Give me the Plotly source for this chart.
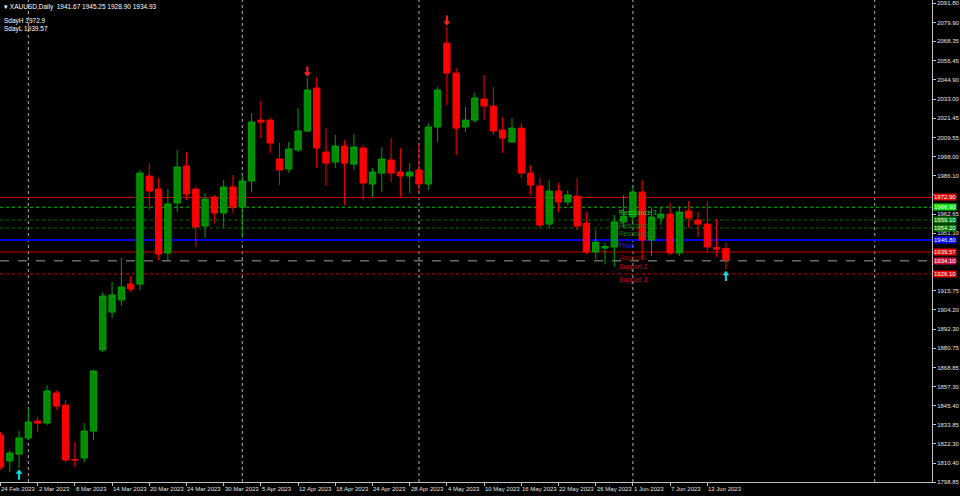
import plotly.graph_objects as go

# ---------------- data ----------------
symbol = "XAUUSD,Daily"

open_ = [1827.6, 1811.7, 1815.9, 1825.8, 1836.1, 1834.9, 1853.3, 1845.9, 1812.6, 1813.5,
         1830.0, 1879.6, 1902.8, 1910.2, 1919.9, 1919.9, 1986.0, 1978.0, 1938.9, 1969.5,
         1992.1, 1978.0, 1955.4, 1973.1, 1963.4, 1979.3, 1967.0, 1982.9, 2020.2, 2020.2,
         1996.4, 1990.3, 2001.9, 2013.5, 2039.8, 2000.7, 1994.6, 2004.3, 1993.3, 2003.1,
         1981.1, 1987.8, 1995.8, 1988.4, 1986.0, 1989.7, 1981.1, 2016.0, 2067.3, 2049.0,
         2016.0, 2020.2, 2033.1, 2028.8, 2014.1, 2006.8, 2015.3, 1987.8, 1979.9, 1956.6,
         1976.8, 1970.1, 1973.7, 1957.2, 1939.5, 1941.9, 1942.6, 1957.9, 1960.9, 1976.2,
         1946.8, 1960.3, 1962.7, 1938.9, 1964.6, 1959.1, 1956.6, 1942.2, 1941.67]
high = [1829.5, 1818.4, 1830.0, 1844.1, 1838.6, 1858.1, 1855.1, 1849.0, 1823.3, 1834.9,
        1867.3, 1915.0, 1921.2, 1935.8, 1924.8, 1989.7, 1994.0, 1984.8, 1978.0, 2001.9,
        2000.7, 1979.9, 1975.6, 1974.4, 1983.5, 1986.6, 1986.6, 2024.5, 2031.9, 2021.5,
        2006.2, 2006.8, 2027.6, 2045.9, 2046.5, 2015.3, 2011.1, 2008.0, 2011.7, 2005.0,
        1990.9, 2003.7, 2009.2, 2003.1, 1993.9, 2006.2, 2018.4, 2040.4, 2077.1, 2052.0,
        2028.2, 2036.8, 2047.8, 2040.4, 2022.1, 2021.5, 2018.4, 1992.7, 1984.8, 1983.5,
        1981.7, 1977.4, 1984.8, 1964.0, 1952.9, 1945.0, 1962.1, 1974.4, 1979.9, 1983.5,
        1966.4, 1967.0, 1969.5, 1967.6, 1970.7, 1964.0, 1970.7, 1959.7, 1945.25]
low = [1806.5, 1804.9, 1807.4, 1824.5, 1829.4, 1833.7, 1842.9, 1811.0, 1808.0, 1811.0,
       1824.5, 1878.3, 1899.1, 1906.5, 1915.0, 1916.3, 1965.2, 1934.6, 1934.6, 1964.0,
       1971.3, 1942.6, 1948.1, 1957.2, 1954.2, 1963.4, 1948.1, 1976.2, 2009.2, 2000.1,
       1980.5, 1987.8, 2000.7, 2012.9, 1990.9, 1979.9, 1990.9, 1968.3, 1989.7, 1971.3,
       1973.1, 1976.2, 1982.3, 1973.1, 1975.6, 1976.2, 1977.4, 2006.8, 2029.4, 1998.8,
       2012.9, 2018.4, 2020.2, 2011.1, 2000.1, 2006.2, 1984.8, 1974.4, 1954.2, 1954.2,
       1964.0, 1968.3, 1953.0, 1938.3, 1935.2, 1932.0, 1930.3, 1954.2, 1957.9, 1934.6,
       1937.1, 1956.0, 1937.7, 1937.1, 1954.2, 1948.7, 1938.9, 1936.5, 1928.90]
close = [1808.0, 1816.6, 1825.8, 1835.5, 1834.9, 1854.5, 1845.3, 1812.3, 1812.3, 1830.0,
         1866.7, 1912.6, 1913.2, 1918.1, 1916.9, 1987.8, 1976.8, 1938.3, 1968.9, 1991.5,
         1975.0, 1954.8, 1971.9, 1963.4, 1979.3, 1967.0, 1982.9, 2019.0, 2019.0, 2006.2,
         1989.7, 2002.5, 2013.5, 2038.6, 2003.1, 1993.9, 2004.3, 1993.9, 2003.7, 1981.7,
         1988.4, 1996.4, 1987.8, 1986.0, 1988.4, 1981.1, 2016.0, 2038.6, 2049.0, 2015.3,
         2020.2, 2033.7, 2028.8, 2013.5, 2009.2, 2015.3, 1987.8, 1980.5, 1956.0, 1976.8,
         1970.1, 1974.4, 1955.4, 1939.5, 1945.6, 1942.9, 1957.9, 1961.5, 1976.2, 1946.8,
         1960.9, 1962.7, 1938.9, 1964.0, 1960.3, 1956.6, 1942.6, 1941.3, 1934.93]

date_tick_bars = list(range(0, 80, 4))
date_tick_labels = ["24 Feb 2023", "2 Mar 2023", "8 Mar 2023", "14 Mar 2023", "20 Mar 2023",
                    "24 Mar 2023", "30 Mar 2023", "5 Apr 2023", "12 Apr 2023", "18 Apr 2023",
                    "24 Apr 2023", "28 Apr 2023", "4 May 2023", "10 May 2023", "16 May 2023",
                    "22 May 2023", "26 May 2023", "1 Jun 2023", "7 Jun 2023", "13 Jun 2023"]

price_ticks = [1798.85, 1810.40, 1822.30, 1833.85, 1845.40, 1857.30, 1868.85, 1880.75,
               1892.30, 1904.20, 1915.75, 1927.65, 1939.20, 1951.10, 1962.65, 1974.55,
               1986.10, 1998.00, 2009.55, 2021.45, 2033.00, 2044.90, 2056.45, 2068.35,
               2079.90, 2091.80]
# tick labels hidden behind the level price boxes in the reference
hidden_ticks = [1927.65, 1939.20, 1974.55]

grid_bars = [3, 26, 45, 68, 94]

level_names = ["SdayH", "Resistance 3", "Resistance 2", "Resistance 1", "Pivot",
               "Support 1", "Support 2", "Support 3"]
level_values = [1972.90, 1966.90, 1959.10, 1954.20, 1946.80, 1939.57, 1934.10, 1926.10]
sday_high = 1972.9
sday_low = 1939.57

down_arrow_bars = [33, 48]
up_arrow_bars = [2, 78]

# ---------------- styles ----------------
GREEN = "#00a000"
RED = "#ff0000"
FONT = "Liberation Sans"
level_line_colors = ["#c80000", "#00c000", "#007000", "#007000", "#0000e0",
                     "#c80000", "#a0a0a0", "#c00000"]
level_dash = ["solid", "dot", "dot", "dot", "solid", "solid", "dash", "dot"]
level_width = [1, 1, 1, 1, 2, 1, 1, 1]
level_box_colors = ["#e00000", "#00e000", "#007a00", "#007a00", "#0000ff",
                    "#e00000", "#c8103c", "#e00000"]
level_text_colors = [None, "#20d020", "#1c7a1c", "#1c7a1c", "#2020ff",
                     "#900000", "#d01020", "#d01020"]
label_bar = 66.3

idx = list(range(len(open_)))

fig = go.Figure()
fig.add_trace(go.Candlestick(
    x=idx, open=open_, high=high, low=low, close=close,
    increasing=dict(line=dict(color=GREEN, width=1), fillcolor="#008c00"),
    decreasing=dict(line=dict(color=RED, width=1), fillcolor=RED),
    whiskerwidth=0, hoverinfo="skip"))

# MT4-style arrows: head + short stem
head_gap, stem_gap = 2.6, 5.0
fig.add_trace(go.Scatter(
    x=down_arrow_bars, y=[high[i] + stem_gap for i in down_arrow_bars], mode="markers",
    marker=dict(symbol="line-ns", size=5, line=dict(color="#ff2020", width=2)), hoverinfo="skip"))
fig.add_trace(go.Scatter(
    x=down_arrow_bars, y=[high[i] + head_gap for i in down_arrow_bars], mode="markers",
    marker=dict(symbol="triangle-down", size=6, color="#ff2020"), hoverinfo="skip"))
fig.add_trace(go.Scatter(
    x=up_arrow_bars, y=[low[i] - stem_gap for i in up_arrow_bars], mode="markers",
    marker=dict(symbol="line-ns", size=5, line=dict(color="#00e0e0", width=2)), hoverinfo="skip"))
fig.add_trace(go.Scatter(
    x=up_arrow_bars, y=[low[i] - head_gap for i in up_arrow_bars], mode="markers",
    marker=dict(symbol="triangle-up", size=6, color="#00e0e0"), hoverinfo="skip"))

shapes = []
for g in grid_bars:
    shapes.append(dict(type="line", xref="x", yref="paper", x0=g, x1=g, y0=0, y1=1,
                       line=dict(color="#b0b0b0", width=1, dash="dot"), layer="below"))
for v, c, d, w in zip(level_values, level_line_colors, level_dash, level_width):
    shapes.append(dict(type="line", xref="paper", yref="y", x0=0, x1=1, y0=v, y1=v,
                       line=dict(color=c, width=w, dash=d), layer="below"))

ann = []
for b, t in zip(date_tick_bars, date_tick_labels):
    ann.append(dict(x=b, y=0, xref="x", yref="paper", text=t, showarrow=False,
                    xanchor="left", yanchor="top", xshift=-1, yshift=-2,
                    font=dict(family=FONT, size=6, color="#e0e0e0")))
for name, v, tc in zip(level_names, level_values, level_text_colors):
    if tc is None:
        continue
    ann.append(dict(x=label_bar, y=v, xref="x", yref="y", text=name, showarrow=False,
                    xanchor="left", yanchor="top", yshift=0,
                    font=dict(family=FONT, size=6.5, color=tc)))
for v, bc in zip(level_values, level_box_colors):
    ann.append(dict(x=1, y=v, xref="paper", yref="y", text=f"{v:.2f}", showarrow=False,
                    xanchor="left", yanchor="middle", xshift=1, bgcolor=bc, borderpad=0,
                    font=dict(family=FONT, size=6, color="white")))
ann.append(dict(x=0, y=1, xref="paper", yref="paper", showarrow=False, xanchor="left",
                yanchor="top", xshift=2, yshift=-1,
                text=f"▾ {symbol}  {open_[-1]:.2f} {high[-1]:.2f} {low[-1]:.2f} {close[-1]:.2f}",
                font=dict(family=FONT, size=6.5, color="white")))
ann.append(dict(x=0, y=1, xref="paper", yref="paper", showarrow=False, xanchor="left",
                yanchor="top", xshift=2, yshift=-15, align="left",
                text=f"SdayH {sday_high}<br>SdayL {sday_low}",
                font=dict(family=FONT, size=6.5, color="white")))

tick_text = ["" if v in hidden_ticks else f"{v:.2f}" for v in price_ticks]

fig.update_layout(
    width=960, height=496, margin=dict(l=0, r=25, t=0, b=14),
    paper_bgcolor="black", plot_bgcolor="black", showlegend=False,
    boxgap=0.32, boxgroupgap=0,
    shapes=shapes, annotations=ann,
    xaxis=dict(range=[-0.05, 100.16], showgrid=False, zeroline=False,
               tickvals=date_tick_bars, showticklabels=False, ticks="outside", ticklen=3,
               tickcolor="#c0c0c0", showline=True, linecolor="#c0c0c0", linewidth=1,
               rangeslider=dict(visible=False), fixedrange=True),
    yaxis=dict(range=[1798.85, 2093.66], side="right", showgrid=False, zeroline=False,
               tickvals=price_ticks, ticktext=tick_text,
               ticks="outside", ticklen=3, tickcolor="#c0c0c0",
               tickfont=dict(family=FONT, size=6, color="#e0e0e0"),
               showline=True, linecolor="#c0c0c0", linewidth=1, fixedrange=True),
)

fig.write_html("out.html", config={"displayModeBar": False},
               post_script="document.body.style.margin='0';document.body.style.overflow='hidden';")
